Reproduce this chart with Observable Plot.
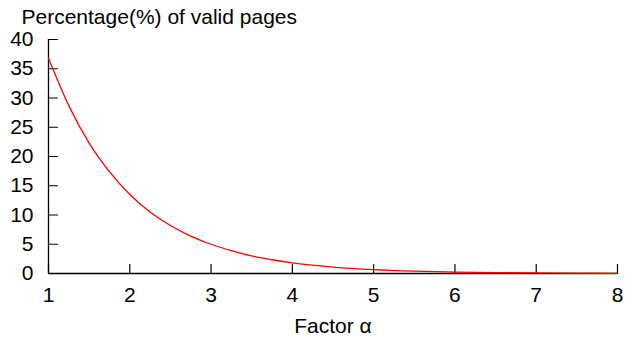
<!DOCTYPE html>
<html>
<head>
<meta charset="utf-8">
<script src="https://cdn.jsdelivr.net/npm/d3@7"></script>
<script src="https://cdn.jsdelivr.net/npm/@observablehq/plot@0.6"></script>
<style>
  html, body { margin: 0; padding: 0; background: #fff; }
  #chart svg { display: block; }
</style>
</head>
<body>
<div id="chart"></div>
<script>
// Data
const factor = [1, 1.25, 1.5, 1.75, 2, 2.25, 2.5, 2.75, 3, 3.25, 3.5, 3.75, 4, 4.5, 5, 5.5, 6, 6.5, 7, 7.5, 8];
const validPct = [36.8, 28.7, 22.3, 17.4, 13.5, 10.5, 8.2, 6.4, 5.0, 3.9, 3.0, 2.35, 1.8, 1.1, 0.67, 0.41, 0.25, 0.15, 0.09, 0.055, 0.034];
const xTicks = [1, 2, 3, 4, 5, 6, 7, 8];
const yTicks = [0, 5, 10, 15, 20, 25, 30, 35, 40];
const yTitle = "Percentage(%) of valid pages";
const xTitle = "Factor \u03b1";

const rows = factor.map((f, i) => ({x: f, y: validPct[i]}));
const tickShape = {draw(ctx, l) { ctx.moveTo(0, 0); ctx.lineTo(0, -l); }};
const FS = 21;

const chart = Plot.plot({
  width: 625,
  height: 338,
  marginLeft: 48,
  marginRight: 8,
  marginTop: 39,
  marginBottom: 65,
  style: {fontFamily: "'Liberation Sans', Arial, sans-serif", fontSize: FS + "px", color: "#000", background: "#fff"},
  x: {domain: [1, 8]},
  y: {domain: [0, 40]},
  marks: [
    Plot.axisX(xTicks, {tickSize: 0, tickPadding: 14, label: null, fontSize: FS}),
    Plot.axisY(yTicks, {tickSize: 0, tickPadding: 15, label: null, fontSize: FS}),
    Plot.ruleX([1], {stroke: "#000", strokeWidth: 1.3}),
    Plot.ruleY([0], {stroke: "#000", strokeWidth: 1.3}),
    Plot.vector(xTicks, {x: d => d, y: 0, length: 9, rotate: 0, anchor: "start", shape: tickShape, stroke: "#000", strokeWidth: 1.2}),
    Plot.vector(yTicks, {x: 1, y: d => d, length: 9, rotate: 90, anchor: "start", shape: tickShape, stroke: "#000", strokeWidth: 1.2}),
    Plot.line(rows, {x: "x", y: "y", stroke: "#ff0000", strokeWidth: 1.3, curve: "monotone-x"}),
    Plot.text([yTitle], {frameAnchor: "top-left", dx: -27, dy: -16, textAnchor: "start", lineAnchor: "bottom", fontSize: FS, fill: "#000"}),
    Plot.text([xTitle], {frameAnchor: "bottom", dy: 59, lineAnchor: "bottom", fontSize: FS, fill: "#000"})
  ]
});
document.getElementById("chart").appendChild(chart);
</script>
</body>
</html>
